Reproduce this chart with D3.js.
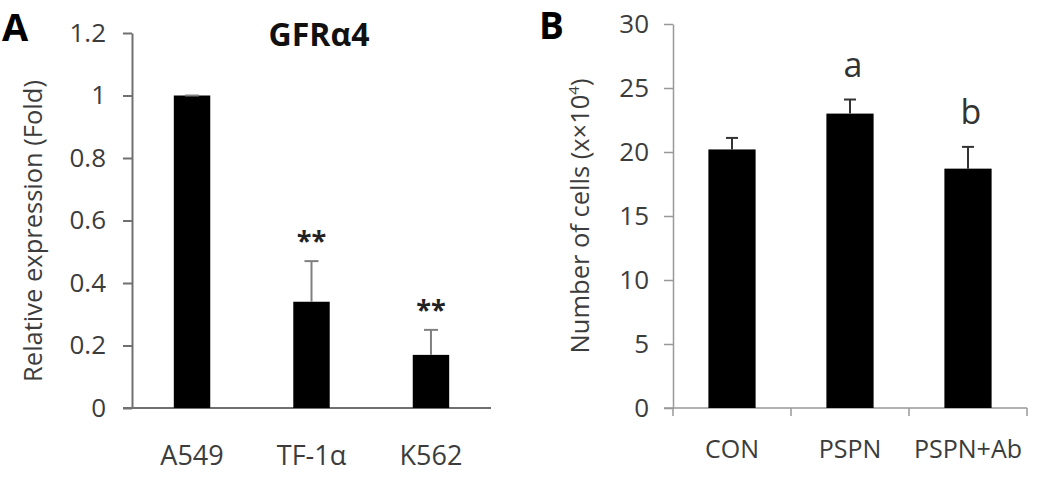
<!DOCTYPE html>
<html>
<head>
<meta charset="utf-8">
<script src="https://cdn.jsdelivr.net/npm/d3@7"></script>
<style>
  html, body { margin: 0; padding: 0; background: #fff; }
  svg { display: block; font-family: "Open Sans", "Noto Sans", sans-serif; }
</style>
</head>
<body>
<svg id="chart" width="1044" height="481"></svg>
<script>
// ---- Panel A data ----
const catsA = ["A549", "TF-1\u03b1", "K562"];
const valuesA = [1.0, 0.34, 0.17];
const errorsA = [0, 0.13, 0.08];
const sigA = ["", "**", "**"];
const ticksA = [0, 0.2, 0.4, 0.6, 0.8, 1.0, 1.2];
const tickLabelsA = ["0", "0.2", "0.4", "0.6", "0.8", "1", "1.2"];

// ---- Panel B data ----
const catsB = ["CON", "PSPN", "PSPN+Ab"];
const valuesB = [20.2, 23.0, 18.7];
const errorsB = [0.9, 1.1, 1.7];
const sigB = ["", "a", "b"];
const ticksB = [0, 5, 10, 15, 20, 25, 30];
const tickLabelsB = ["0", "5", "10", "15", "20", "25", "30"];

const FONT = "'Open Sans', 'Noto Sans', sans-serif";
const svg = d3.select("#chart");
svg.append("rect").attr("width", 1044).attr("height", 481).attr("fill", "#fff");

// ================= Panel A =================
const yA = d3.scaleLinear().domain([0, 1.2]).range([408, 33]);
const xA = d3.scaleBand().domain(catsA).range([132, 491]).paddingInner(0.695).paddingOuter(0.35);
const gA = svg.append("g");

const axA = gA.append("g").attr("transform", "translate(132,0)")
  .call(d3.axisLeft(yA).tickValues(ticksA).tickFormat((d, i) => tickLabelsA[i])
        .tickSizeInner(9).tickSizeOuter(0).tickPadding(17));
axA.select(".domain").attr("stroke", "#707070").attr("stroke-width", 2);
axA.selectAll(".tick line").attr("stroke", "#707070").attr("stroke-width", 2);
axA.selectAll(".tick text").attr("fill", "#3c3c3c").style("font-size", "26px")
  .style("font-family", FONT);

// x axis A
const axXA = gA.append("g").attr("transform", "translate(0,408)")
  .call(d3.axisBottom(xA).tickSize(0).tickPadding(38));
axXA.select(".domain").remove();
axXA.selectAll(".tick text").attr("fill", "#3c3c3c").style("font-size", "27px")
  .style("font-family", FONT);
gA.append("line").attr("x1", xA.range()[0] - 9).attr("x2", xA.range()[1])
  .attr("y1", yA(0)).attr("y2", yA(0)).attr("stroke", "#707070").attr("stroke-width", 2);

// bars A
gA.selectAll("rect.bar").data(catsA).enter().append("rect").attr("class", "bar")
  .attr("x", d => xA(d)).attr("width", xA.bandwidth())
  .attr("y", (d, i) => yA(valuesA[i])).attr("height", (d, i) => yA(0) - yA(valuesA[i]))
  .attr("fill", "#000");

// error bars A
catsA.forEach((c, i) => {
  const cx = xA(c) + xA.bandwidth() / 2;
  const top = yA(valuesA[i] + errorsA[i]);
  gA.append("line").attr("x1", cx).attr("x2", cx).attr("y1", yA(valuesA[i])).attr("y2", top)
    .attr("stroke", "#808080").attr("stroke-width", 2);
  gA.append("line").attr("x1", cx - 7).attr("x2", cx + 7).attr("y1", top).attr("y2", top)
    .attr("stroke", "#808080").attr("stroke-width", 2);
  if (sigA[i]) {
    gA.append("text").attr("x", cx).attr("y", top - 11).attr("text-anchor", "middle")
      .attr("fill", "#222").style("font-size", "27px").style("font-weight", "bold")
      .text(sigA[i]);
  }
});

// y title A
gA.append("text").attr("transform", "translate(42,231) rotate(-90)")
  .attr("text-anchor", "middle").attr("fill", "#3c3c3c").style("font-size", "25.5px")
  .text("Relative expression (Fold)");

// title A
gA.append("text").attr("x", 319).attr("y", 46).attr("text-anchor", "middle")
  .attr("fill", "#111").style("font-size", "32px").style("font-weight", "bold")
  .text("GFR\u03b14");

// panel letter A
svg.append("text").attr("x", 2).attr("y", 41).attr("fill", "#000")
  .style("font-size", "38px").style("font-weight", "bold").text("A");

// ================= Panel B =================
const yB = d3.scaleLinear().domain([0, 30]).range([408, 24]);
const xB = d3.scaleBand().domain(catsB).range([673, 1027]).paddingInner(0.6).paddingOuter(0.3);
const gB = svg.append("g");

const axB = gB.append("g").attr("transform", "translate(673,0)")
  .call(d3.axisLeft(yB).tickValues(ticksB).tickFormat((d, i) => tickLabelsB[i])
        .tickSizeInner(9).tickSizeOuter(0).tickPadding(15));
axB.select(".domain").attr("stroke", "#999").attr("stroke-width", 1.5);
axB.selectAll(".tick line").attr("stroke", "#999").attr("stroke-width", 1.5);
axB.selectAll(".tick text").attr("fill", "#3c3c3c").style("font-size", "26px")
  .style("font-family", FONT);

// x axis B
const axXB = gB.append("g").attr("transform", "translate(0,408)")
  .call(d3.axisBottom(xB).tickSize(0).tickPadding(32));
axXB.select(".domain").remove();
axXB.selectAll(".tick text").attr("fill", "#3c3c3c").style("font-size", "25px")
  .style("font-family", FONT);
gB.append("line").attr("x1", xB.range()[0] - 9).attr("x2", xB.range()[1])
  .attr("y1", yB(0)).attr("y2", yB(0)).attr("stroke", "#999").attr("stroke-width", 1.5);
d3.range(catsB.length + 1).forEach(i => {
  const tx = xB.range()[0] + i * (xB.range()[1] - xB.range()[0]) / catsB.length;
  gB.append("line").attr("x1", tx).attr("x2", tx).attr("y1", yB(0)).attr("y2", yB(0) + 8)
    .attr("stroke", "#999").attr("stroke-width", 1.5);
});

// bars B
gB.selectAll("rect.bar").data(catsB).enter().append("rect").attr("class", "bar")
  .attr("x", d => xB(d)).attr("width", xB.bandwidth())
  .attr("y", (d, i) => yB(valuesB[i])).attr("height", (d, i) => yB(0) - yB(valuesB[i]))
  .attr("fill", "#000");

// error bars B
catsB.forEach((c, i) => {
  const cx = xB(c) + xB.bandwidth() / 2;
  const top = yB(valuesB[i] + errorsB[i]);
  gB.append("line").attr("x1", cx).attr("x2", cx).attr("y1", yB(valuesB[i])).attr("y2", top)
    .attr("stroke", "#333").attr("stroke-width", 2);
  gB.append("line").attr("x1", cx - 6).attr("x2", cx + 6).attr("y1", top).attr("y2", top)
    .attr("stroke", "#333").attr("stroke-width", 2);
  if (sigB[i]) {
    gB.append("text").attr("x", cx + 3).attr("y", top - 23).attr("text-anchor", "middle")
      .attr("fill", "#333").style("font-size", "34px")
      .text(sigB[i]);
  }
});

// y title B
const tB = gB.append("text").attr("transform", "translate(589,216) rotate(-90)")
  .attr("text-anchor", "middle").attr("fill", "#3c3c3c").style("font-size", "25.5px");
tB.append("tspan").text("Number of cells (x\u00d710");
tB.append("tspan").attr("dy", -10).style("font-size", "15px").text("4");
tB.append("tspan").attr("dy", 10).text(")");

// panel letter B
svg.append("text").attr("x", 539).attr("y", 39).attr("fill", "#000")
  .style("font-size", "37px").style("font-weight", "bold").text("B");
</script>
</body>
</html>
